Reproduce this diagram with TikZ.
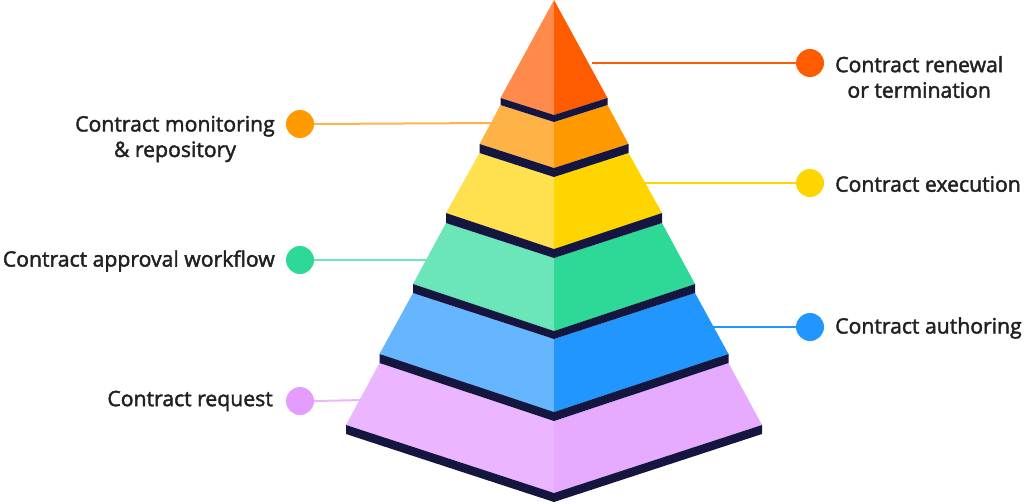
\documentclass[tikz,border=0pt]{standalone}
\usepackage{fontspec}
\newfontfamily\lblfont{Open Sans}[FakeBold=2]
\definecolor{band}{HTML}{14163F}
\definecolor{txt}{HTML}{212121}
\definecolor{aL}{HTML}{FF8A4C}\definecolor{aR}{HTML}{FF5C00}
\definecolor{bL}{HTML}{FFB347}\definecolor{bR}{HTML}{FF9900}
\definecolor{cL}{HTML}{FFE04F}\definecolor{cR}{HTML}{FFD500}
\definecolor{dL}{HTML}{6BE6B8}\definecolor{dR}{HTML}{2ED897}
\definecolor{eL}{HTML}{66B5FF}\definecolor{eR}{HTML}{2196FF}
\definecolor{fL}{HTML}{EBB6FF}\definecolor{fR}{HTML}{E6AAFF}
\definecolor{fD}{HTML}{E59CFF}
\begin{document}
\begin{tikzpicture}[x=1pt,y=-1pt,
  dot/.style={circle,inner sep=0pt,minimum size=28pt},
  lbl/.style={font=\lblfont\fontsize{21.2}{25.5}\selectfont,text=txt,inner sep=0pt,align=center},
  conn/.style={line width=2pt}]
\useasboundingbox (0,0) rectangle (1024,503);
% dots
\node[dot,fill=aR] (d1) at (810,63) {};
\node[dot,fill=bR] (d2) at (300,124) {};
\node[dot,fill=cR] (d3) at (810,183) {};
\node[dot,fill=dR] (d4) at (300,260) {};
\node[dot,fill=eR] (d5) at (810,327) {};
\node[dot,fill=fD] (d6) at (300,401) {};
% edge coordinates
\coordinate (e1) at (592,63);
\coordinate (e2) at (495,123);
\coordinate (e3) at (642,183);
\coordinate (e4) at (430,260);
\coordinate (e5) at (710,327);
\coordinate (e6) at (364,400);
% connectors
\draw[conn,aR] (d1) -- (e1);
\draw[conn,bL] (d2.east) -- (e2);
\draw[conn,cR] (d3) -- (e3);
\draw[conn,dL] (d4.east) -- (e4);
\draw[conn,eR] (d5) -- (e5);
\draw[conn,fL] (d6.east) -- (e6);
% pyramid layers
\fill[aL] (554,0) -- (554,115) -- (500.5,98) -- cycle;
\fill[aR] (554,0) -- (607.5,98) -- (554,115) -- cycle;
\fill[bL] (500.5,105) -- (554,122) -- (554,168) -- (479.5,144) -- cycle;
\fill[bR] (607.5,105) -- (554,122) -- (554,168) -- (628.5,144) -- cycle;
\fill[cL] (479.5,153) -- (554,177) -- (554,249) -- (446,213) -- cycle;
\fill[cR] (628.5,153) -- (554,177) -- (554,249) -- (662,213) -- cycle;
\fill[dL] (446,223) -- (554,258) -- (554,331) -- (413,284) -- cycle;
\fill[dR] (662,223) -- (554,258) -- (554,331) -- (695,284) -- cycle;
\fill[eL] (413,293) -- (554,339) -- (554,412) -- (379.5,354) -- cycle;
\fill[eR] (695,293) -- (554,339) -- (554,412) -- (728.5,354) -- cycle;
\fill[fL] (379.5,363) -- (554,421) -- (554,493) -- (346,425) -- cycle;
\fill[fR] (728.5,363) -- (554,421) -- (554,493) -- (762,425) -- cycle;
% bands
\fill[band] (500.5,98) -- (554,115) -- (607.5,98) -- (607.5,105) -- (554,122) -- (500.5,105) -- cycle;
\fill[band] (479.5,144) -- (554,168) -- (628.5,144) -- (628.5,153) -- (554,177) -- (479.5,153) -- cycle;
\fill[band] (446,213) -- (554,249) -- (662,213) -- (662,223) -- (554,258) -- (446,223) -- cycle;
\fill[band] (413,284) -- (554,331) -- (695,284) -- (695,293) -- (554,339) -- (413,293) -- cycle;
\fill[band] (379.5,354) -- (554,412) -- (728.5,354) -- (728.5,363) -- (554,421) -- (379.5,363) -- cycle;
\fill[band] (346,425) -- (554,493) -- (762,425) -- (762,434) -- (554,502) -- (346,434) -- cycle;
% labels
\node[lbl,anchor=west] (t1) at (835,77) {Contract renewal\\or termination};
\node[lbl,anchor=east] (t2) at (275,139) {Contract monitoring\\\& repository};
\node[lbl,anchor=west] (t3) at (835,184) {Contract execution};
\node[lbl,anchor=east] (t4) at (275,261) {Contract approval workflow};
\node[lbl,anchor=west] (t5) at (835,328) {Contract authoring};
\node[lbl,anchor=east] (t6) at (273,401) {Contract request};
\end{tikzpicture}
\end{document}
